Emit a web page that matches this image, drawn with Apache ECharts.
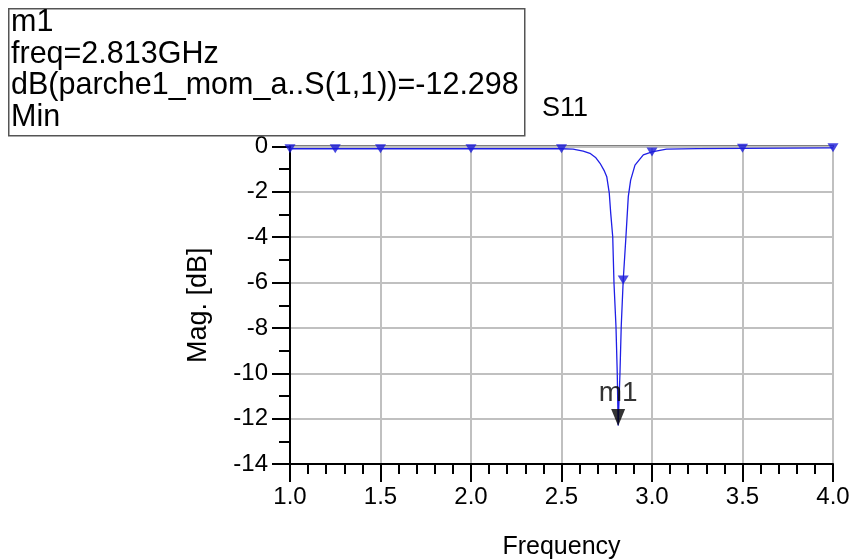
<!DOCTYPE html>
<html>
<head>
<meta charset="utf-8">
<script src="https://cdn.jsdelivr.net/npm/echarts@6/dist/echarts.min.js"></script>
<style>html,body{margin:0;padding:0;background:#fff}#c{width:854px;height:560px}</style>
</head>
<body>
<div id="c"></div>
<script>
// Trace S11 (dB) vs frequency (GHz)
const freqGHz = [1.0, 1.25, 1.5, 2.0, 2.5, 2.564, 2.62, 2.657, 2.69, 2.713, 2.735, 2.750, 2.764, 2.772, 2.783, 2.790, 2.801, 2.808, 2.813, 2.823, 2.830, 2.841, 2.856, 2.869, 2.882, 2.906, 2.952, 3.0, 3.08, 3.25, 3.5, 4.0];
const s11dB   = [-0.10, -0.10, -0.10, -0.10, -0.10, -0.12, -0.20, -0.30, -0.50, -0.74, -1.05, -1.33, -2.06, -2.95, -3.98, -6.03, -7.94, -10.0, -12.298, -10.0, -7.94, -5.89, -3.98, -2.21, -1.48, -0.82, -0.37, -0.24, -0.12, -0.09, -0.08, -0.06];
// Simulation sample points (triangles on the trace)
const sampleFreq = [1.0, 1.25, 1.5, 2.0, 2.5, 2.841, 3.0, 3.5, 4.0];
const sampleDB   = [-0.10, -0.10, -0.10, -0.10, -0.10, -5.89, -0.24, -0.08, -0.06];
// Marker m1
const markerName = 'm1';
const markerFreq = 2.813;
const markerDB = -12.298;
const markerLines = ['m1', 'freq=2.813GHz', 'dB(parche1_mom_a..S(1,1))=-12.298', 'Min'];
// Axes
const xTicks = [1.0, 1.5, 2.0, 2.5, 3.0, 3.5, 4.0];
const yTicks = [0, -2, -4, -6, -8, -10, -12, -14];
const titleText = 'S11';
const xName = 'Frequency';
const yName = 'Mag. [dB]';

const FONT = 'Liberation Sans, Arial, sans-serif';
const chart = echarts.init(document.getElementById('c'), null, {renderer: 'canvas'});
const lineData = freqGHz.map((f, i) => [f, s11dB[i]]);
const sampleData = sampleFreq.map((f, i) => [f, sampleDB[i]]);

chart.setOption({
  animation: false,
  backgroundColor: '#fff',
  title: {
    text: titleText, left: 537, top: 90,
    textStyle: {fontFamily: FONT, fontSize: 27, fontWeight: 'normal', color: '#000'}
  },
  grid: {left: 290, right: 21, top: 146.5, bottom: 96, show: true, borderColor: '#000', borderWidth: 2,
    containLabel: false, outerBoundsMode: 'none'},
  xAxis: {
    type: 'value', min: xTicks[0], max: xTicks[xTicks.length - 1], interval: 0.5,
    name: xName, nameLocation: 'middle', nameGap: 71,
    nameTextStyle: {fontFamily: FONT, fontSize: 25, color: '#000'},
    axisLine: {show: true, onZero: false, lineStyle: {color: '#000', width: 2}},
    axisTick: {show: true, length: 18, lineStyle: {color: '#000', width: 2}},
    minorTick: {show: true, splitNumber: 5, length: 10, lineStyle: {color: '#000', width: 2}},
    axisLabel: {fontFamily: FONT, fontSize: 24, color: '#000', margin: 21, formatter: v => v.toFixed(1)},
    splitLine: {show: true, lineStyle: {color: '#c0c0c0', width: 2}}
  },
  yAxis: {
    type: 'value', min: yTicks[yTicks.length - 1], max: yTicks[0], interval: 2,
    name: yName, nameLocation: 'middle', nameGap: 78, nameRotate: 90,
    nameTextStyle: {fontFamily: FONT, fontSize: 27, color: '#000'},
    axisLine: {show: true, onZero: false, lineStyle: {color: '#000', width: 2}},
    axisTick: {show: true, length: 18, lineStyle: {color: '#000', width: 2}},
    minorTick: {show: true, splitNumber: 2, length: 11, lineStyle: {color: '#000', width: 2}},
    axisLabel: {fontFamily: FONT, fontSize: 24, color: '#000', margin: 22},
    splitLine: {show: true, lineStyle: {color: '#c0c0c0', width: 2}}
  },
  series: [
    {
      type: 'line', data: lineData, showSymbol: false, smooth: false,
      lineStyle: {color: '#1f1fe6', width: 1.3}, z: 3
    },
    {
      type: 'scatter', data: sampleData, symbol: 'triangle', symbolRotate: 180,
      symbolSize: [11, 9], itemStyle: {color: '#1a1ad9'}, z: 4
    },
    {
      type: 'scatter', data: [[markerFreq, markerDB]], symbol: 'triangle', symbolRotate: 180,
      symbolSize: [14, 17], symbolOffset: [0, -8], itemStyle: {color: '#000'}, z: 5,
      label: {show: true, formatter: markerName, position: 'top', distance: 2,
        fontFamily: FONT, fontSize: 28, color: '#000'}
    }
  ],
  graphic: [
    {type: 'rect', left: 8, top: 8, shape: {width: 516, height: 127},
     style: {fill: '#fff', stroke: '#555', lineWidth: 1.5}, z: 10},
    {type: 'text', left: 11, top: 7, z: 11,
     style: {text: markerLines.join('\n'), font: '30.5px ' + FONT, lineHeight: 31.5, fill: '#000'}}
  ]
});
</script>
</body>
</html>
